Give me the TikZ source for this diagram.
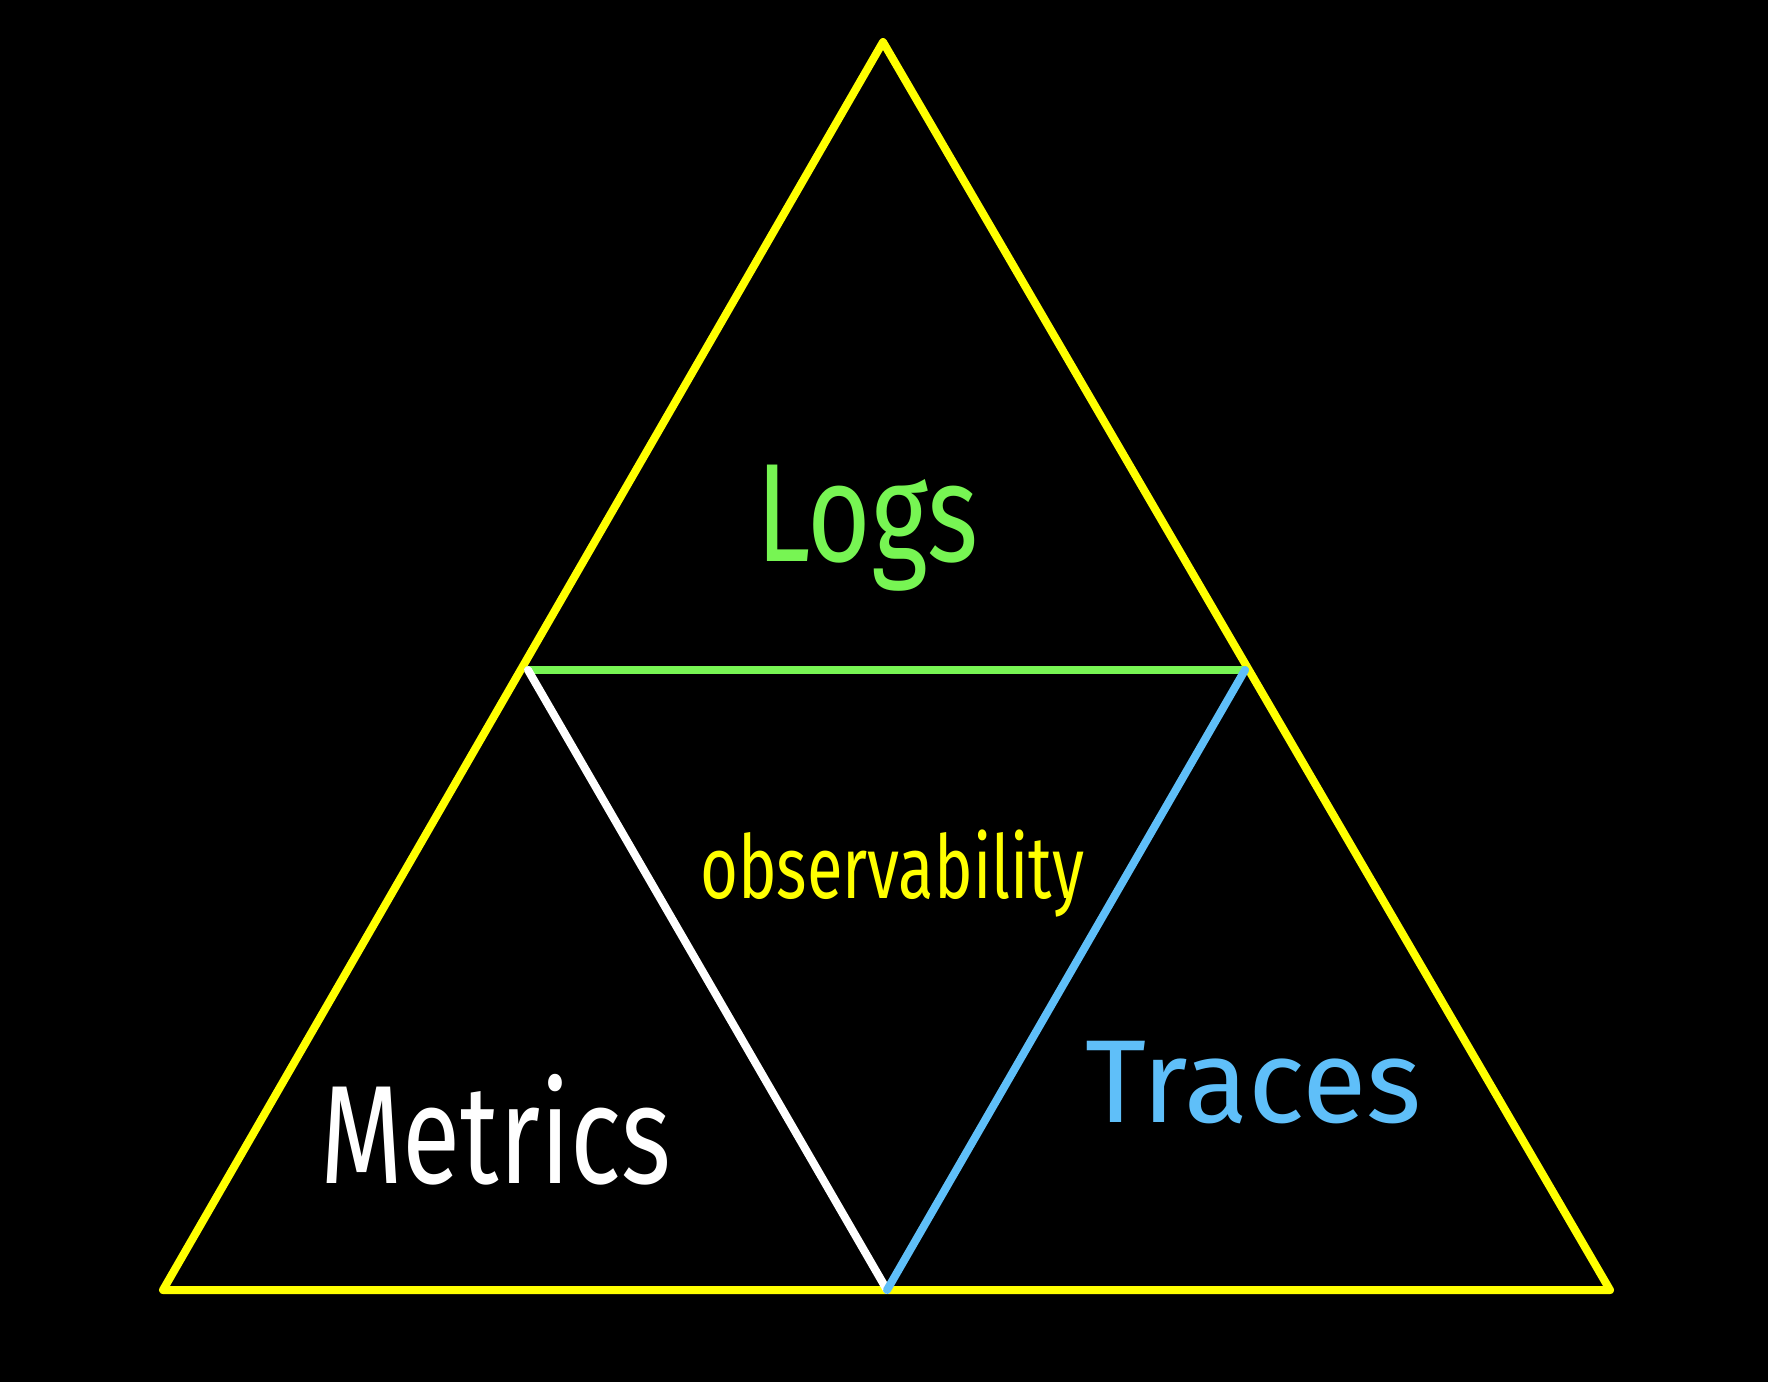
\documentclass[tikz,border=0pt]{standalone}
\usepackage{fontspec}
\setmainfont{Fira Sans}
\definecolor{tyellow}{HTML}{FFFF00}
\definecolor{tgreen}{HTML}{77F553}
\definecolor{tblue}{HTML}{5FBFF9}
\begin{document}
\begin{tikzpicture}[x=1pt,y=-1pt,
  edge/.style={line width=8pt,line cap=round,line join=round},
  label/.style={inner sep=0pt,anchor=base west}]
\fill[black] (0,0) rectangle (1768,1382);
\useasboundingbox (0,0) rectangle (1768,1382);
% outer triangle corners
\coordinate (apex) at (883,42);
\coordinate (bl) at (163,1290);
\coordinate (br) at (1610,1290);
% inner triangle corners
\coordinate (ml) at (528,670);
\coordinate (mr) at (1245,670);
\coordinate (mb) at (887,1290);
% outer triangle
\draw[edge,tyellow] (bl) -- (apex) -- (br) -- cycle;
% inner triangle
\draw[edge,tgreen] (ml) -- (mr);
\draw[edge,white] (ml) -- (mb);
\draw[edge,tblue] (mr) -- (mb);
% labels
\node[label,text=tgreen,xscale=0.78] (logs) at (756,561) {\fontsize{140}{140}\selectfont Logs};
\node[label,text=tyellow,xscale=0.74] (obs) at (700,898) {\fontsize{88}{88}\selectfont observability};
\node[label,text=white,xscale=0.76] (metrics) at (320,1183) {\fontsize{140}{140}\selectfont Metrics};
\node[label,text=tblue,xscale=1.0] (traces) at (1085,1122) {\fontsize{118}{118}\selectfont Traces};
\end{tikzpicture}
\end{document}
